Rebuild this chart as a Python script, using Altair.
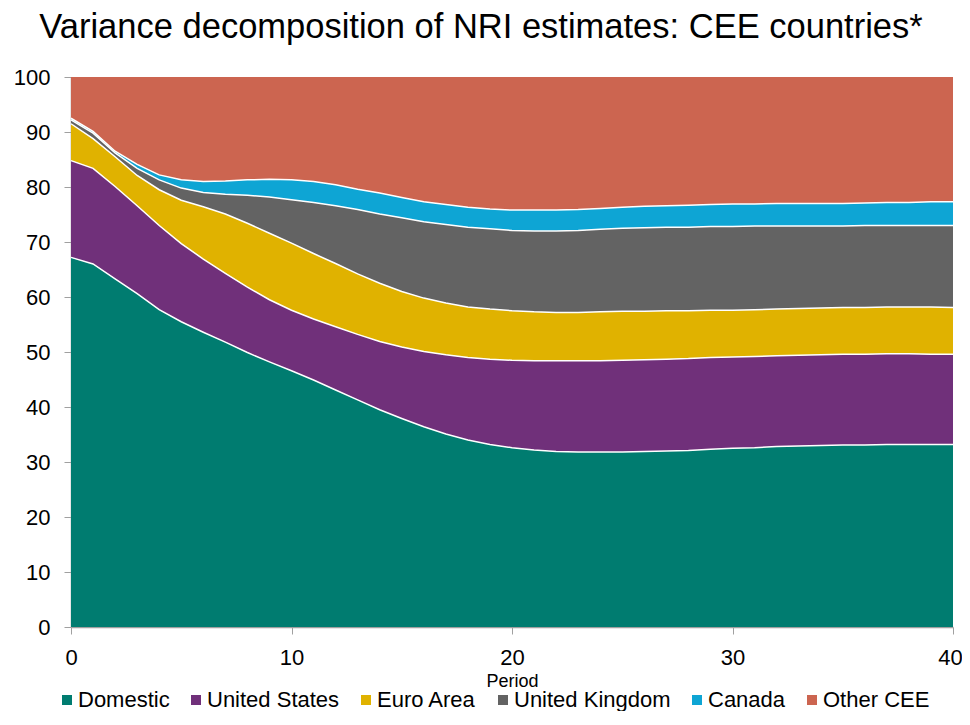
import altair as alt
import pandas as pd

periods = list(range(0, 41))

# cumulative upper boundaries of each band (percent)
domestic_top = [67.2, 66.0, 63.3, 60.6, 57.7, 55.5, 53.6, 51.8, 49.9, 48.2, 46.6, 44.9, 43.1, 41.3, 39.5, 37.9, 36.4, 35.1, 34.0, 33.2,
                32.6, 32.2, 31.9, 31.8, 31.8, 31.8, 31.9, 32.0, 32.1, 32.3, 32.5, 32.6, 32.8, 32.9, 33.0, 33.1, 33.1, 33.2, 33.2, 33.2, 33.2]
us_top = [84.8, 83.4, 80.1, 76.6, 73.0, 69.7, 66.9, 64.3, 61.8, 59.5, 57.6, 56.0, 54.6, 53.2, 51.9, 50.9, 50.1, 49.5, 49.0, 48.7,
          48.5, 48.4, 48.4, 48.4, 48.4, 48.5, 48.6, 48.7, 48.8, 49.0, 49.1, 49.2, 49.3, 49.4, 49.5, 49.6, 49.6, 49.7, 49.7, 49.6, 49.6]
euro_top = [91.5, 88.8, 85.5, 82.1, 79.5, 77.6, 76.4, 75.1, 73.4, 71.6, 69.8, 67.9, 66.1, 64.2, 62.5, 61.0, 59.8, 58.9, 58.2, 57.8,
            57.5, 57.3, 57.2, 57.2, 57.3, 57.4, 57.4, 57.5, 57.5, 57.6, 57.6, 57.7, 57.8, 57.9, 58.0, 58.1, 58.1, 58.2, 58.2, 58.2, 58.1]
uk_top = [92.2, 89.8, 86.2, 83.4, 81.3, 79.8, 79.0, 78.7, 78.5, 78.2, 77.7, 77.2, 76.6, 75.9, 75.1, 74.4, 73.7, 73.2, 72.7, 72.4,
          72.1, 72.0, 72.0, 72.1, 72.3, 72.5, 72.6, 72.7, 72.7, 72.8, 72.8, 72.9, 72.9, 72.9, 72.9, 72.9, 73.0, 73.0, 73.0, 73.0, 73.0]
canada_top = [92.5, 90.1, 86.5, 84.1, 82.2, 81.3, 81.0, 81.1, 81.3, 81.4, 81.3, 81.0, 80.4, 79.6, 78.9, 78.1, 77.3, 76.8, 76.3, 76.0,
              75.8, 75.8, 75.8, 75.9, 76.1, 76.3, 76.5, 76.6, 76.7, 76.8, 76.9, 76.9, 77.0, 77.0, 77.0, 77.0, 77.1, 77.2, 77.2, 77.3, 77.3]
other_top = [100.0] * 41

series = ["Domestic", "United States", "Euro Area", "United Kingdom", "Canada", "Other CEE"]
colors = ["#007C70", "#70307A", "#E0B200", "#636363", "#0EA5D4", "#CC6550"]
tops = [domestic_top, us_top, euro_top, uk_top, canada_top, other_top]

rows = []
lower = [0.0] * 41
for s_i, (name, top) in enumerate(zip(series, tops)):
    for i, p in enumerate(periods):
        rows.append({"period": p, "series": name, "order": s_i, "lo": lower[i], "hi": top[i]})
    lower = top
df = pd.DataFrame(rows)

FONT = "Liberation Sans"

x = alt.X("period:Q", scale=alt.Scale(domain=[0, 40], nice=False),
          axis=alt.Axis(values=[0, 10, 20, 30, 40], title="Period", titleFontSize=18,
                        titleFontWeight="normal", titlePadding=4, labelPadding=13,
                        labelFlush=False,
                        labelOffset=alt.condition("datum.value == 40", alt.value(-3), alt.value(0))))
y = alt.Y("hi:Q", scale=alt.Scale(domain=[0, 100], nice=False),
          axis=alt.Axis(values=list(range(0, 101, 10)), title=None, labelPadding=14))

areas = alt.Chart(df).mark_area(interpolate="linear").encode(
    x=x,
    y=y,
    y2="lo:Q",
    color=alt.Color("series:N", scale=alt.Scale(domain=series, range=colors),
                    sort=series,
                    legend=alt.Legend(title=None, orient="none", legendX=-15, legendY=612,
                                      direction="horizontal", columns=6,
                                      symbolType="square", symbolSize=100,
                                      symbolStrokeWidth=0, symbolOpacity=1,
                                      labelFontSize=22, labelFont=FONT, labelColor="black",
                                      labelLimit=400, labelOffset=0, columnPadding=15)),
    order=alt.Order("order:Q"),
)

lines = alt.Chart(df[df["series"] != "Other CEE"]).mark_line(
    color="white", strokeWidth=1.5, interpolate="linear"
).encode(x="period:Q", y="hi:Q", detail="series:N")

chart = alt.layer(areas, lines).properties(
    width=882, height=550,
    title=alt.TitleParams("Variance decomposition of NRI estimates: CEE countries*",
                          fontSize=34.5, font=FONT, fontWeight="normal", color="black",
                          anchor="middle", dx=-31, offset=21),
    autosize=alt.AutoSizeParams(type="none"),
    padding={"left": 63, "top": 69, "right": 9, "bottom": 84},
).configure_view(stroke=None).configure_axis(
    grid=False, domainColor="#A0A0A0", tickColor="#A0A0A0", tickSize=7,
    labelFont=FONT, labelFontSize=22, labelColor="black", titleFont=FONT, titleColor="black",
    domainWidth=1.5,
)

chart.save("out.html", embed_options={"renderer": "svg", "actions": False})
